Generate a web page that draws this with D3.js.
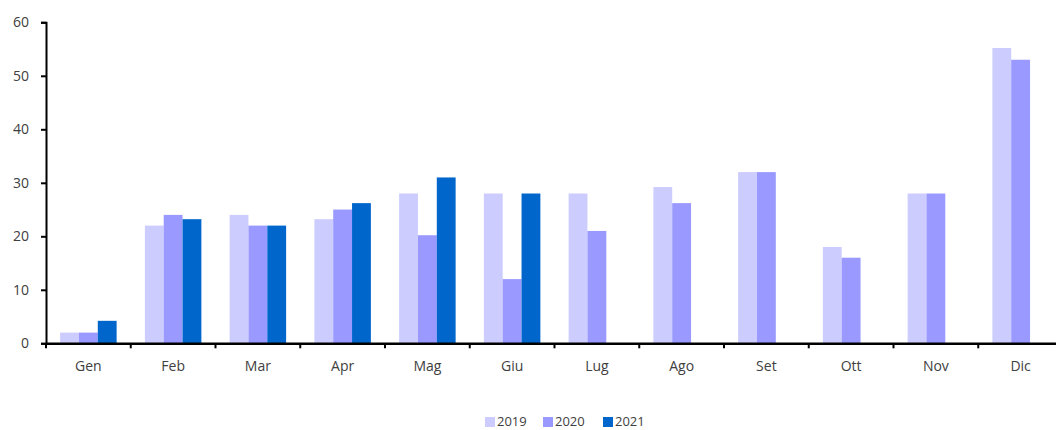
<!DOCTYPE html>
<html><head><meta charset="utf-8">
<script src="https://cdn.jsdelivr.net/npm/d3@7"></script>
<style>body{margin:0;background:#fff}svg{display:block}text{font-family:"Open Sans",sans-serif;fill:#404040}</style>
</head><body><svg id="c" width="1056" height="430"></svg>
<script>
const months = ["Gen","Feb","Mar","Apr","Mag","Giu","Lug","Ago","Set","Ott","Nov","Dic"];
const seriesNames = ["2019","2020","2021"];
const v2019 = [2, 22, 24, 23.2, 28, 28, 28, 29.2, 32, 18, 28, 55.2];
const v2020 = [2, 24, 22, 25, 20.2, 12, 21, 26.2, 32, 16, 28, 53];
const v2021 = [4.2, 23.2, 22, 26.2, 31, 28, null, null, null, null, null, null];
const yTicks = [0,10,20,30,40,50,60];
const colors = ["#ccccff","#9999ff","#0066cc"];

const svg = d3.select("#c");
const L = 46, R = 1063, T = 22.3, B = 343.3;
const x = d3.scaleBand().domain(months).range([L, R]);
const xs = d3.scaleBand().domain(seriesNames).range([0, x.bandwidth()]).paddingOuter(0.75).paddingInner(0);
const y = d3.scaleLinear().domain([0,60]).range([B, T]);
const all = [v2019, v2020, v2021];

const g = svg.append("g");
all.forEach((vals, si) => {
  g.selectAll(null).data(months.map((m,i)=>({m, v: vals[i]})).filter(d=>d.v!=null))
    .enter().append("rect")
    .attr("x", d => x(d.m) + xs(seriesNames[si]))
    .attr("width", xs.bandwidth())
    .attr("y", d => y(d.v))
    .attr("height", d => y(0) - y(d.v))
    .attr("fill", colors[si]);
});

// y axis
const ya = svg.append("g").attr("transform", `translate(${L},0)`)
  .call(d3.axisLeft(y).tickValues(yTicks).tickSize(5).tickPadding(12));
ya.select(".domain").attr("stroke","#000").attr("stroke-width",2);
ya.selectAll(".tick line").attr("stroke","#000").attr("stroke-width",2);
ya.selectAll("text").style("font-size","14px").attr("fill","#404040");

// x axis
const xa = svg.append("g").attr("transform", `translate(0,${B})`)
  .call(d3.axisBottom(x).tickSize(0).tickPadding(18));
xa.select(".domain").attr("stroke","#000").attr("stroke-width",2.5);
xa.selectAll("text").style("font-size","14px").attr("fill","#404040");
xa.selectAll(null).data(months).enter().append("line")
  .attr("x1", d => x(d)).attr("x2", d => x(d)).attr("y1", 0).attr("y2", 5)
  .attr("stroke","#000").attr("stroke-width",2);

// legend
const legX = [485, 543, 603];
const leg = svg.append("g");
seriesNames.forEach((s,i) => {
  leg.append("rect").attr("x", legX[i]).attr("y", 417).attr("width", 10).attr("height", 10).attr("fill", colors[i]);
  leg.append("text").attr("x", legX[i]+12).attr("y", 425.5).style("font-size","13px").text(s);
});
</script></body></html>
